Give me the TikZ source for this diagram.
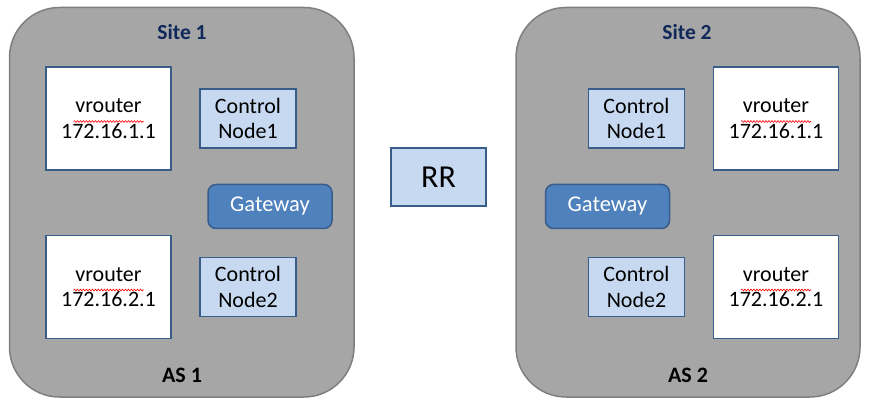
\documentclass[tikz,border=0pt]{standalone}
\usepackage{fontspec}
\setmainfont{Carlito}
\usetikzlibrary{decorations.pathmorphing}
\definecolor{sitegray}{HTML}{A6A6A6}
\definecolor{siteedge}{HTML}{7F7F7F}
\definecolor{boxedge}{HTML}{385D8A}
\definecolor{ctrlfill}{HTML}{C6D9F1}
\definecolor{gwfill}{HTML}{4F81BD}
\definecolor{titlecol}{HTML}{10285A}
\tikzset{
  sitebox/.style={draw=siteedge, fill=sitegray, line width=1.5pt, rounded corners=50pt},
  vrbox/.style={draw=boxedge, fill=white, line width=1.5pt, minimum width=125pt, minimum height=103pt, align=center, font=\fontsize{22}{25.5}\selectfont, inner sep=0pt},
  ctrlbox/.style={draw=boxedge, fill=ctrlfill, line width=1.5pt, minimum width=96pt, minimum height=59pt, align=center, font=\fontsize{22}{25.5}\selectfont, inner sep=0pt},
  gwbox/.style={draw=boxedge, fill=gwfill, line width=1.5pt, rounded corners=8pt, minimum width=124pt, minimum height=44pt, text=white, font=\fontsize{22.5}{25}\selectfont, inner sep=0pt},
  rrbox/.style={draw=boxedge, fill=ctrlfill, line width=1.5pt, minimum width=95pt, minimum height=58pt, font=\fontsize{32}{36}\selectfont, inner sep=0pt},
  title/.style={font=\fontsize{21.5}{24}\selectfont\bfseries, text=titlecol},
  astitle/.style={font=\fontsize{22}{25}\selectfont\bfseries, text=black},
  squig/.style={draw=red, line width=0.6pt, decorate, decoration={snake, amplitude=0.9pt, segment length=3pt}}
}
\begin{document}
\begin{tikzpicture}[x=1pt,y=-1pt]
\useasboundingbox (0,0) rectangle (871,406);
% sites
\draw[sitebox] (9.5,7.5) rectangle (354,397);
\draw[sitebox] (516,7.5) rectangle (860,397);
\node[title] (s1) at (182,32) {Site 1};
\node[title] (s2) at (687,32) {Site 2};
\node[astitle] (as1) at (182,375) {AS 1};
\node[astitle] (as2) at (688,375) {AS 2};
% site 1
\node[vrbox] (v11) at (108.5,118.5) {vrouter\\172.16.1.1};
\node[vrbox] (v12) at (108.5,287) {vrouter\\172.16.2.1};
\node[ctrlbox] (c11) at (248,118.5) {Control\\Node1};
\node[ctrlbox] (c12) at (248,287) {Control\\Node2};
\node[gwbox] (g1) at (270,206.5) {Gateway};
% RR
\node[rrbox] (rr) at (438.5,177) {RR};
% site 2
\node[ctrlbox] (c21) at (636.5,118.5) {Control\\Node1};
\node[ctrlbox] (c22) at (636.5,287) {Control\\Node2};
\node[vrbox] (v21) at (776,118.5) {vrouter\\172.16.1.1};
\node[vrbox] (v22) at (776,287) {vrouter\\172.16.2.1};
\node[gwbox] (g2) at (607.5,206.5) {Gateway};
% spell-check underlines
\path[squig] ([xshift=-35pt,yshift=-3pt]v11.center) -- ([xshift=35pt,yshift=-3pt]v11.center);
\path[squig] ([xshift=-35pt,yshift=-3pt]v12.center) -- ([xshift=35pt,yshift=-3pt]v12.center);
\path[squig] ([xshift=-35pt,yshift=-3pt]v21.center) -- ([xshift=35pt,yshift=-3pt]v21.center);
\path[squig] ([xshift=-35pt,yshift=-3pt]v22.center) -- ([xshift=35pt,yshift=-3pt]v22.center);
\end{tikzpicture}
\end{document}
